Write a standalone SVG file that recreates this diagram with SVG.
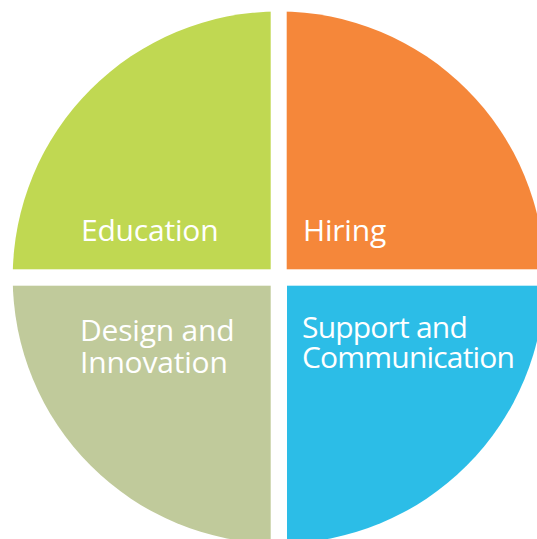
<svg xmlns="http://www.w3.org/2000/svg" width="537" height="539" viewBox="0 0 537 539">
<style>
.lbl{font-family:"Open Sans","Noto Sans","DejaVu Sans",sans-serif;font-size:30px;fill:#ffffff;letter-spacing:-0.2px}
.tight{letter-spacing:-0.8px}
</style>
<defs>
<clipPath id="circ"><circle cx="278.7" cy="277.5" r="266"/></clipPath>
</defs>
<rect width="537" height="539" fill="#ffffff"/>
<g id="education" clip-path="url(#circ)">
<rect x="0" y="0" width="270.7" height="269.3" fill="#C0D852"/>
<text class="lbl" x="81" y="240.7">Education</text>
</g>
<g id="hiring" clip-path="url(#circ)">
<rect x="286.7" y="0" width="260" height="269.3" fill="#F5873A"/>
<text class="lbl" x="303" y="240.7">Hiring</text>
</g>
<g id="design" clip-path="url(#circ)">
<rect x="0" y="285.7" width="270.7" height="260" fill="#C0CA9B"/>
<text class="lbl" x="80" y="340.7">Design and</text>
<text class="lbl" x="80" y="372.7">Innovation</text>
</g>
<g id="support" clip-path="url(#circ)">
<rect x="287" y="285.7" width="260" height="260" fill="#2CBDE7"/>
<text class="lbl tight" x="302" y="338.3">Support and</text>
<text class="lbl tight" x="302" y="368">Communication</text>
</g>
<g id="connectors"/>
</svg>
